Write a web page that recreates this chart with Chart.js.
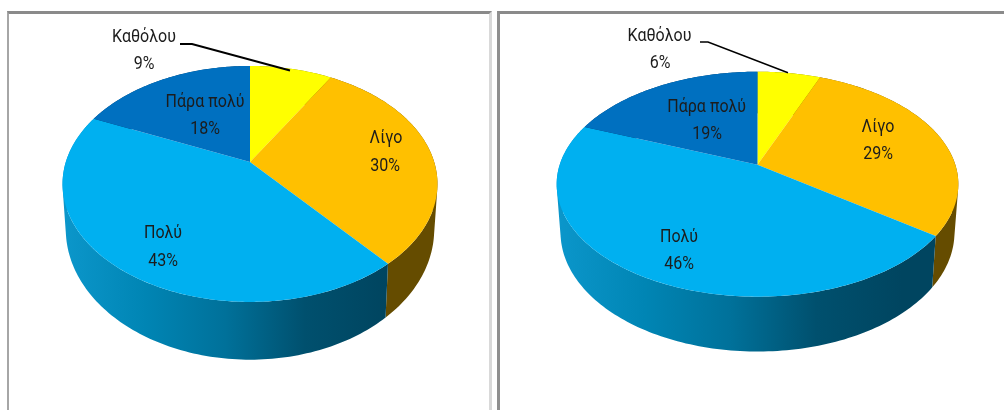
<!DOCTYPE html>
<html>
<head>
<meta charset="utf-8">
<script src="https://cdn.jsdelivr.net/npm/chart.js@4/dist/chart.umd.js"></script>
<style>
  html, body { margin: 0; padding: 0; background: #fff; overflow: hidden; }
  #page { position: relative; width: 1004px; height: 410px; }
  .panel { position: absolute; top: 11px; height: 399px; box-sizing: border-box;
           border-top: 3px solid #8a8a8a; border-bottom: none; }
  #panelLeft { left: 7px; width: 485px; border-left: 2px solid #a6a6a6; border-right: 3px solid #d9d9d9; }
  #panelRight { left: 497px; width: 507px; border-left: 3px solid #8f8f8f; }
  canvas { position: absolute; top: 0; filter: blur(0.4px); }
  #chartLeft { left: 0; }
  #chartRight { left: 495px; }
</style>
</head>
<body>
<div id="page">
  <div class="panel" id="panelLeft"></div>
  <div class="panel" id="panelRight"></div>
  <canvas id="chartLeft" width="495" height="410"></canvas>
  <canvas id="chartRight" width="509" height="410"></canvas>
</div>
<script>
// Dane
const categories = ['Καθόλου', 'Λίγο', 'Πολύ', 'Πάρα πολύ'];
const valuesLeft = [8.5, 30.4, 42.8, 18.3];
const valuesRight = [6, 29, 46, 19];
const sliceColors = ['#FFFF00', '#FFC000', '#00B0F0', '#0070C0'];

// Boki tortu: kolory gradientu w poziomie
const sideStops = [
    ['#808000', '#808000'],
    ['#654c00', '#654c00'],
    ['#0b96ca', '#0085b4', '#00719a', '#00506e', '#004560'],
    ['#00406e', '#00406e'],
];

// Geometria perspektywy dla kazdego wykresu (piksele canvasu)
const viewLeft = {
    top: { cx: 250, cy: 162, a: 184.2, b: 113.9, k: 0.186 },
    bottom: { cx: 250, cy: 205, a: 181, b: 125.9, k: 0.186 },
    labels: [[144, 37], [144, 64], [386, 138], [385, 166], [163, 233], [163, 261], [205, 102], [205, 129]],
    leader: [[180, 44], [192, 44], [290, 70.5]],
    leaderWidth: 2,
};
const viewRight = {
    top: { cx: 262.5, cy: 164.7, a: 197.8, b: 109.1, k: 0.1733 },
    bottom: { cx: 262.5, cy: 211.7, a: 194, b: 115.6, k: 0.1733 },
    labels: [[164.5, 36], [165, 63], [383, 127], [383, 154], [184, 237], [184, 264], [211.7, 107], [212, 134]],
    leader: [[205, 42], [213, 42], [293, 72.7]],
    leaderWidth: 1.5,
};

/**
 * Rzut punktu okregu na elipse z perspektywa
 */
function project(face, angle) {
    const u = Math.cos(angle);
    const v = Math.sin(angle);
    const w = 1 - face.k * v;
    return [face.cx + face.a * u / w, face.cy + face.b * v / w];
}

function traceEdge(ctx, face, start, end) {
    const steps = Math.max(2, Math.ceil((end - start) / 0.01));
    for (let i = 0; i <= steps; i++) {
        const p = project(face, start + (end - start) * i / steps);
        ctx.lineTo(p[0], p[1]);
    }
}

/**
 * Sciana boczna jako paski miedzy gorna i dolna krawedzia.
 * Kazdy pasek ma ten sam kierunek, zeby fill nie robil dziur na zagieciu.
 */
function traceWall(ctx, view, start, end) {
    const steps = Math.max(2, Math.ceil((end - start) / 0.02));
    for (let i = 0; i < steps; i++) {
        const a0 = start + (end - start) * i / steps;
        const a1 = start + (end - start) * (i + 1) / steps;
        const quad = [project(view.top, a0), project(view.top, a1), project(view.bottom, a1), project(view.bottom, a0)];
        let area = 0;
        quad.forEach((p, j) => {
            const q = quad[(j + 1) % 4];
            area += p[0] * q[1] - q[0] * p[1];
        });
        if (area < 0) {
            quad.reverse();
        }
        ctx.moveTo(quad[0][0], quad[0][1]);
        quad.slice(1).forEach((p) => ctx.lineTo(p[0], p[1]));
        ctx.closePath();
    }
}

/**
 * Kontroler: katy wycinkow liczy Chart.js, tu tylko rysowanie 3D
 */
class Pie3dController extends Chart.PieController {
    static id = 'pie3d';
    static defaults = Chart.PieController.defaults;

    draw() {
        const ctx = this.chart.ctx;
        const view = this.getDataset().view;
        const arcs = this.getMeta().data;

        // Najpierw boki, potem wierzch
        arcs.forEach((arc, index) => {
            const stops = sideStops[index];
            const gradient = ctx.createLinearGradient(view.top.cx - view.top.a, 0, view.top.cx + view.top.a * 0.73, 0);
            stops.forEach((color, i) => gradient.addColorStop(i / (stops.length - 1), color));
            ctx.beginPath();
            traceWall(ctx, view, arc.startAngle, arc.endAngle);
            ctx.fillStyle = gradient;
            ctx.fill();
        });

        arcs.forEach((arc) => {
            ctx.beginPath();
            ctx.moveTo(view.top.cx, view.top.cy);
            traceEdge(ctx, view.top, arc.startAngle, arc.endAngle);
            ctx.closePath();
            ctx.fillStyle = arc.options.backgroundColor;
            ctx.fill();
        });
    }
}
Chart.register(Pie3dController);

// Tekst 18px zwezony, jak w oryginale
function drawLabel(ctx, text, x, y) {
    ctx.save();
    ctx.translate(x, y);
    ctx.scale(0.89, 1);
    ctx.fillText(text, 0, 0);
    ctx.restore();
}

// Etykiety i linia odniesienia
const labelPlugin = {
    id: 'sliceLabels',
    afterDatasetsDraw(chart) {
        const ctx = chart.ctx;
        const dataset = chart.data.datasets[0];
        const view = dataset.view;
        const total = dataset.data.reduce((sum, value) => sum + value, 0);

        ctx.save();
        ctx.strokeStyle = '#000';
        ctx.lineWidth = view.leaderWidth;
        ctx.beginPath();
        view.leader.forEach((p, i) => (i ? ctx.lineTo(p[0], p[1]) : ctx.moveTo(p[0], p[1])));
        ctx.stroke();

        ctx.fillStyle = '#1c1c1c';
        ctx.font = '18px Roboto';
        ctx.textAlign = 'center';
        ctx.textBaseline = 'middle';
        chart.data.labels.forEach((label, i) => {
            const name = view.labels[i * 2];
            const share = view.labels[i * 2 + 1];
            drawLabel(ctx, label, name[0], name[1]);
            drawLabel(ctx, Math.round(dataset.data[i] / total * 100) + '%', share[0], share[1]);
        });
        ctx.restore();
    },
};

function createChart(canvasId, values, view) {
    return new Chart(document.getElementById(canvasId), {
        type: 'pie3d',
        data: {
            labels: categories,
            datasets: [{ data: values, backgroundColor: sliceColors, borderWidth: 0, view: view }],
        },
        options: {
            responsive: false,
            animation: false,
            plugins: { legend: { display: false }, tooltip: { enabled: false } },
        },
        plugins: [labelPlugin],
    });
}

createChart('chartLeft', valuesLeft, viewLeft);
createChart('chartRight', valuesRight, viewRight);
</script>
</body>
</html>
